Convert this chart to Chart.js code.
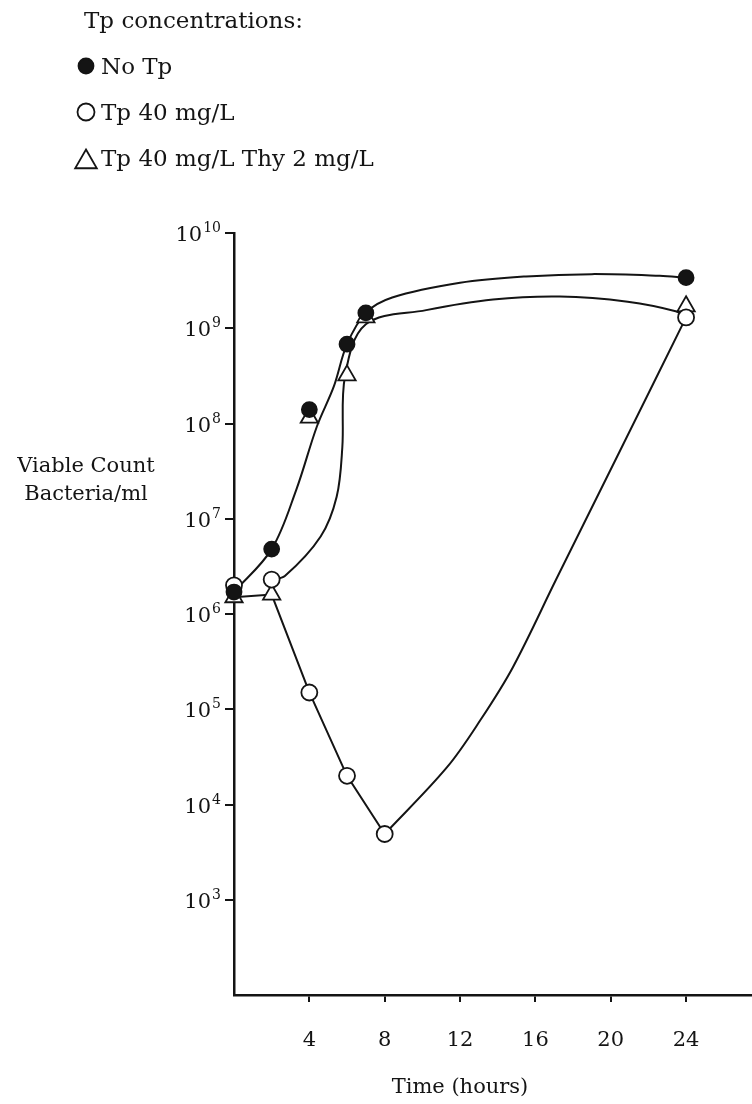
<!DOCTYPE html>
<html>
<head>
<meta charset="utf-8">
<script src="https://cdn.jsdelivr.net/npm/chart.js@4.4.1/dist/chart.umd.min.js"></script>
<style>
  html, body { margin: 0; padding: 0; background: #fff; }
  #wrap { width: 752px; height: 1104px; position: relative; }
</style>
</head>
<body>
<div id="wrap"><canvas id="chart" width="752" height="1104"></canvas></div>
<script>
// Measured viable counts (hours after inoculation, bacteria/ml)
const noTpHours  = [0, 2, 4, 6, 7, 24];
const noTpCounts = [1.7e6, 4.8e6, 1.4e8, 6.8e8, 1.45e9, 3.4e9];

const tpHours  = [0, 2, 4, 6, 8, 24];
const tpCounts = [2.0e6, 2.3e6, 1.5e5, 2.0e4, 4.9e3, 1.3e9];

const thyHours  = [0, 2, 4, 6, 7, 24];
const thyCounts = [1.5e6, 1.6e6, 1.15e8, 3.2e8, 1.3e9, 1.7e9];

// Hand-drawn trend curves through the measurements
const noTpCurveHours  = [0, 2, 3.3, 4.4, 5.3, 6, 7, 8.4, 12, 15.5, 19, 22.6, 24];
const noTpCurveCounts = [1.7e6, 4.8e6, 2.0e7, 9.3e7, 2.45e8, 6.8e8, 1.45e9, 2.1e9, 3.0e9, 3.5e9, 3.7e9, 3.55e9, 3.4e9];

const rescueCurveHours  = [2, 2.7, 4.6, 5.45, 5.75, 5.9, 7, 10.2, 13.75, 17.3, 20.9, 23.5, 24];
const rescueCurveCounts = [2.3e6, 2.5e6, 6.5e6, 1.7e7, 5.6e7, 3.2e8, 1.1e9, 1.55e9, 2.0e9, 2.15e9, 1.9e9, 1.5e9, 1.3e9];

const killCurveHours  = [0, 2, 4, 6, 8];
const killCurveCounts = [1.5e6, 1.6e6, 1.5e5, 2.0e4, 4.9e3];

const regrowthCurveHours  = [8, 11.3, 13.1, 14.8, 17.1, 20.5, 24];
const regrowthCurveCounts = [4.9e3, 2.45e4, 7.8e4, 2.75e5, 2.3e6, 5.2e7, 1.3e9];

// Axis ticks
const timeTicks  = [4, 8, 12, 16, 20, 24];
const countTicks = [1e3, 1e4, 1e5, 1e6, 1e7, 1e8, 1e9, 1e10];

const legendTitle = 'Tp concentrations:';
const yTitleLines = ['Viable Count', 'Bacteria/ml'];
const xTitle = 'Time (hours)';

const INK = '#141414';
const SERIF = '"DejaVu Serif", "Liberation Serif", serif';

const pts = (xs, ys) => xs.map((x, i) => ({ x: x, y: ys[i] }));

function curve(xs, ys, smooth) {
  return {
    type: 'line',
    data: pts(xs, ys),
    borderColor: INK,
    borderWidth: 2,
    pointRadius: 0,
    pointHoverRadius: 0,
    fill: false,
    tension: smooth ? 0.35 : 0,
    clip: false,
    order: 10,
    isCurve: true
  };
}

function markers(label, xs, ys, style, radius, fillColor, order) {
  return {
    type: 'line',
    label: label,
    data: pts(xs, ys),
    showLine: false,
    pointStyle: style,
    pointRadius: radius,
    pointHoverRadius: radius,
    pointBackgroundColor: fillColor,
    pointBorderColor: INK,
    pointBorderWidth: 1.8,
    clip: false,
    order: order
  };
}

// Power-of-ten labels for the count axis, placed at the axis' own tick pixels
const powerLabels = {
  id: 'powerLabels',
  afterDraw(chart) {
    const ctx = chart.ctx;
    const y = chart.scales.y;
    const right = y.right - 13;
    ctx.save();
    ctx.fillStyle = INK;
    ctx.textAlign = 'right';
    ctx.textBaseline = 'alphabetic';
    countTicks.forEach(v => {
      const py = y.getPixelForValue(v);
      const exp = String(Math.round(Math.log10(v)));
      ctx.font = '14px ' + SERIF;
      const ew = ctx.measureText(exp).width;
      ctx.fillText(exp, right, py - 1);
      ctx.font = '21px ' + SERIF;
      ctx.fillText('10', right - ew - 1, py + 8);
    });
    ctx.restore();
  }
};

// Legend block and axis titles drawn in the free space around the plot
const annotations = {
  id: 'annotations',
  afterDraw(chart) {
    const ctx = chart.ctx;
    ctx.save();
    ctx.fillStyle = INK;
    ctx.textBaseline = 'alphabetic';
    ctx.textAlign = 'left';
    ctx.font = '23px ' + SERIF;
    ctx.fillText(legendTitle, 84, 28);

    const rows = chart.data.datasets.filter(d => !d.isCurve);
    rows.forEach((ds, i) => {
      const cy = 66 + i * 46;
      const tri = ds.pointStyle === 'triangle';
      const r = tri ? 12.5 : (ds.pointBackgroundColor === INK ? 7.5 : 8.5);
      ctx.fillStyle = ds.pointBackgroundColor;
      ctx.strokeStyle = INK;
      ctx.lineWidth = 1.8;
      Chart.helpers.drawPoint(ctx, { pointStyle: ds.pointStyle, radius: r, rotation: 0, borderWidth: 1.8 },
                              86, tri ? cy + 4 : cy);
      ctx.fillStyle = INK;
      ctx.font = '23px ' + SERIF;
      ctx.fillText(ds.label, 101, cy + 8);
    });

    ctx.font = '21px ' + SERIF;
    ctx.textAlign = 'center';
    ctx.fillText(yTitleLines[0], 86, 472);
    ctx.fillText(yTitleLines[1], 86, 500);
    ctx.fillText(xTitle, 460, 1093);
    ctx.restore();
  }
};

const chart = new Chart(document.getElementById('chart'), {
  type: 'line',
  data: {
    datasets: [
      curve(noTpCurveHours, noTpCurveCounts, true),
      curve(rescueCurveHours, rescueCurveCounts, true),
      curve(killCurveHours, killCurveCounts, false),
      curve(regrowthCurveHours, regrowthCurveCounts, true),
      markers('No Tp', noTpHours, noTpCounts, 'circle', 7.5, INK, 1),
      markers('Tp 40 mg/L', tpHours, tpCounts, 'circle', 8, '#ffffff', 2),
      markers('Tp 40 mg/L Thy 2 mg/L', thyHours, thyCounts, 'triangle', 10, '#ffffff', 3)
    ]
  },
  options: {
    responsive: false,
    animation: false,
    events: [],
    layout: { autoPadding: false, padding: { left: 0, right: 0, top: 233, bottom: 0 } },
    plugins: { legend: { display: false }, tooltip: { enabled: false } },
    scales: {
      x: {
        type: 'linear',
        min: 0,
        max: 27.5,
        afterBuildTicks: s => { s.ticks = timeTicks.map(v => ({ value: v })); },
        afterFit: s => { s.height = 109; s.paddingLeft = 0; s.paddingRight = 0; },
        border: { display: true, color: INK, width: 2.5 },
        grid: { drawOnChartArea: false, drawTicks: true, tickLength: 7, color: INK, lineWidth: 2 },
        ticks: { color: INK, font: { family: SERIF, size: 21 }, padding: 26, maxRotation: 0, autoSkip: false }
      },
      y: {
        type: 'logarithmic',
        min: 1e2,
        max: 1e10,
        afterBuildTicks: s => { s.ticks = countTicks.map(v => ({ value: v })); },
        afterFit: s => { s.width = 234; s.paddingTop = 0; s.paddingBottom = 0; },
        border: { display: true, color: INK, width: 2.5 },
        grid: { drawOnChartArea: false, drawTicks: true, tickLength: 9, color: INK, lineWidth: 2 },
        ticks: { display: false, autoSkip: false }
      }
    }
  },
  plugins: [powerLabels, annotations]
});
</script>
</body>
</html>
